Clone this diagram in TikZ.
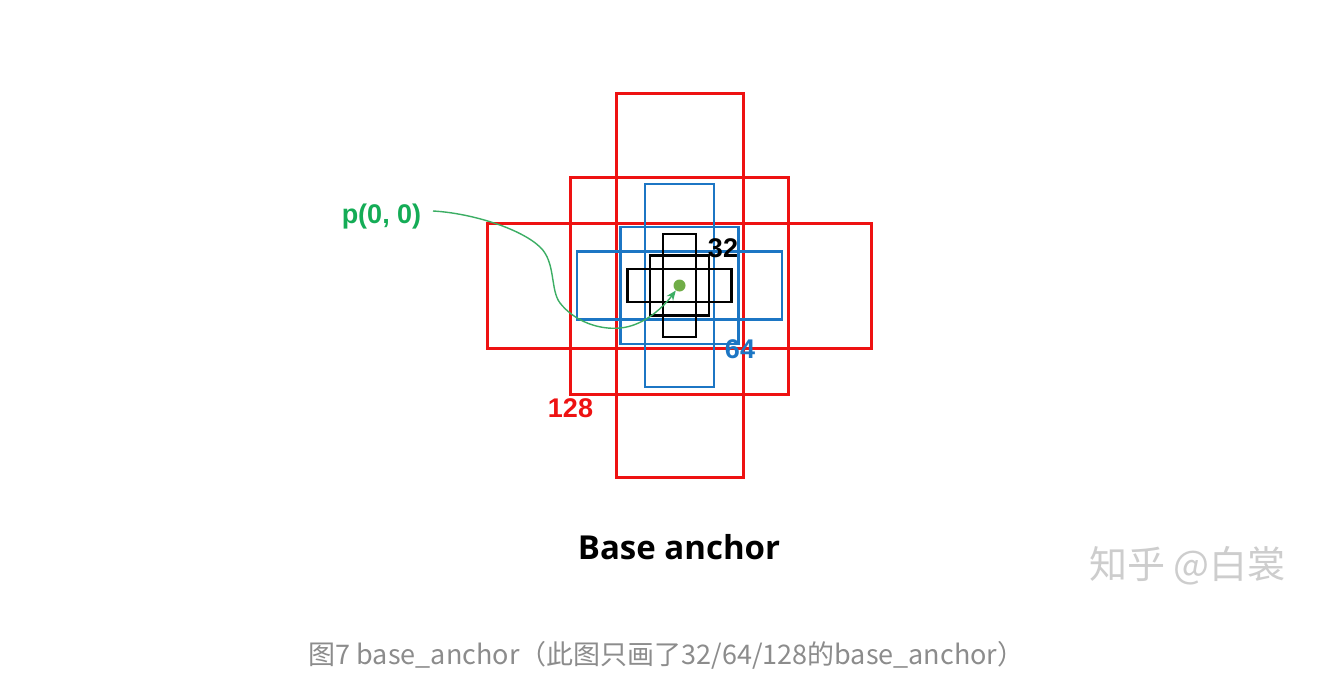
\documentclass[tikz,border=0pt]{standalone}
\usepackage{fontspec}
\setmainfont{Liberation Sans}
\newfontfamily\cjk{Noto Sans CJK SC}
\newfontfamily\titlef{Open Sans}
\usetikzlibrary{arrows.meta}
\definecolor{bxred}{RGB}{238,18,18}
\definecolor{bxblue}{RGB}{28,118,196}
\definecolor{gtext}{RGB}{20,172,86}
\definecolor{gcurve}{RGB}{60,174,100}
\definecolor{gdot}{RGB}{112,173,71}
\definecolor{capgray}{RGB}{140,140,140}
\definecolor{wmgray}{RGB}{205,205,205}
\begin{document}
\begin{tikzpicture}[x=1pt,y=-1pt,
  redbox/.style={draw=bxred,line width=3pt,inner sep=0pt,outer sep=0pt},
  bluebox/.style={draw=bxblue,line width=2.9pt,inner sep=0pt,outer sep=0pt},
  blackbox/.style={draw=black,line width=2.9pt,inner sep=0pt,outer sep=0pt},
  lbl/.style={inner sep=0pt,anchor=base,font=\fontsize{27}{31}\selectfont\bfseries}]
\fill[white] (0,0) rectangle (1330,698);
\useasboundingbox (0,0) rectangle (1330,698);
\coordinate (c) at (679.5,285.5);
% red anchors (128)
\node[redbox,minimum width=127pt,minimum height=383pt] (r1) at (c) {};
\node[redbox,minimum width=218pt,minimum height=217pt] (r2) at (c) {};
\node[redbox,minimum width=384pt,minimum height=125pt] (r3) at (c) {};
% blue anchors (64)
\node[bluebox,minimum width=69pt,minimum height=203pt] (b1) at (c) {};
\node[bluebox,minimum width=118pt,minimum height=117pt] (b2) at (c) {};
\node[bluebox,minimum width=205pt,minimum height=68pt] (b3) at (c) {};
% black anchors (32)
\node[blackbox,minimum width=33pt,minimum height=103pt] (k1) at (c) {};
\node[blackbox,minimum width=59pt,minimum height=60pt] (k2) at (c) {};
\node[blackbox,minimum width=104pt,minimum height=33pt] (k3) at (c) {};
% center point
\node[circle,fill=gdot,inner sep=0pt,minimum size=12pt] (dot) at (c) {};
% labels
\node[lbl,text=black] (l32) at (723,257) {32};
\node[lbl,text=bxblue] (l64) at (740,358) {64};
\node[lbl,text=bxred] (l128) at (570.5,417) {128};
\node[lbl,text=gtext] (p) at (381.5,223) {p(0, 0)};
\coordinate (start) at (433,211);
\draw[gcurve,line width=1.4pt,-{Stealth[length=10pt,width=8pt]}]
  (start) .. controls (470,213) and (520,228) .. (540,247)
  .. controls (556,262) and (550,290) .. (560,303)
  .. controls (575,322) and (600,330) .. (620,328)
  .. controls (645,326) and (665,305) .. (dot);
% title
\node[inner sep=0pt,anchor=base,font=\titlef\fontsize{33}{38}\selectfont\bfseries] (title) at (679,559) {Base anchor};
% watermark
\node[inner sep=0pt,anchor=base,text=wmgray,font=\cjk\fontsize{38}{42}\selectfont] (wm) at (1187.5,578) {知乎 @白裳};
% caption
\node[inner sep=0pt,anchor=base,text=capgray,font=\cjk\fontsize{27}{31}\selectfont] (cap) at (666.5,664) {图7 base\_anchor（此图只画了32/64/128的base\_anchor）};
\end{tikzpicture}
\end{document}
